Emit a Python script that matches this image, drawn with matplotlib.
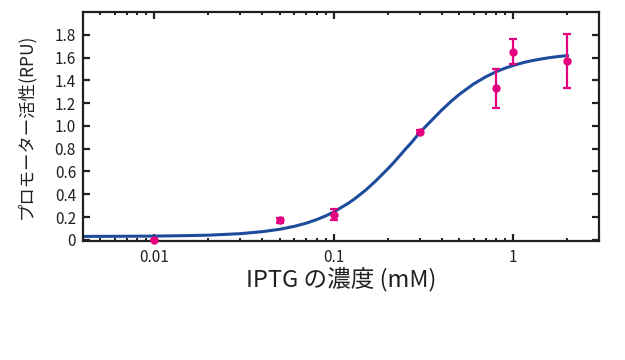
import numpy as np
import matplotlib
matplotlib.use("Agg")
import matplotlib.pyplot as plt
from matplotlib.ticker import FixedLocator, FuncFormatter, LogLocator, NullFormatter

plt.rcParams['font.family'] = ['Noto Sans CJK JP', 'DejaVu Sans']

# 測定値 (IPTG 濃度 mM, 活性 RPU, 誤差)
iptg = [0.01, 0.05, 0.1, 0.3, 0.8, 1.0, 2.0]
activity = [0.0, 0.17, 0.22, 0.95, 1.33, 1.65, 1.57]
err = [0.0, 0.02, 0.05, 0.01, 0.17, 0.11, 0.24]

# フィット曲線
curve_x = [0.004, 0.006, 0.008, 0.01, 0.015, 0.02, 0.03, 0.04, 0.05, 0.06, 0.07,
           0.08, 0.09, 0.1, 0.12, 0.13, 0.15, 0.17, 0.2, 0.22, 0.25, 0.27, 0.3,
           0.35, 0.4, 0.45, 0.5, 0.6, 0.7, 0.8, 0.9, 1.0, 1.15, 1.3, 1.45, 1.6,
           1.8, 2.0]
curve_y = [0.030, 0.031, 0.032, 0.033, 0.037, 0.041, 0.054, 0.072, 0.093, 0.118,
           0.146, 0.177, 0.210, 0.245, 0.320, 0.358, 0.435, 0.513, 0.624, 0.694,
           0.795, 0.852, 0.94, 1.048, 1.141, 1.216, 1.277, 1.368, 1.430, 1.475,
           1.507, 1.531, 1.558, 1.576, 1.589, 1.600, 1.610, 1.617]

y_ticks = [0, 0.2, 0.4, 0.6, 0.8, 1.0, 1.2, 1.4, 1.6, 1.8]
x_ticks = [0.01, 0.1, 1]
x_labels = ["0.01", "0.1", "1"]

ink = "#231f20"
blue = "#1d4c9c"
magenta = "#e4007f"

fig = plt.figure(figsize=(6.25, 3.6), dpi=100)
ax = fig.add_axes([0.1328, 0.3306, 0.8256, 0.6361])

ax.plot(curve_x, curve_y, color=blue, lw=2.2, zorder=2, solid_joinstyle="round")
ax.errorbar(iptg, activity, yerr=err, fmt="o", color=magenta, ms=5,
            elinewidth=1.6, capsize=3, capthick=1.6, zorder=3, clip_on=False)

ax.set_xscale("log")
ax.set_xlim(0.004, 3.0)
ax.set_ylim(-0.01, 2.0)

ax.xaxis.set_major_locator(FixedLocator(x_ticks))
ax.set_xticklabels(x_labels)
ax.xaxis.set_minor_locator(LogLocator(base=10, subs=np.arange(2, 10)))
ax.xaxis.set_minor_formatter(NullFormatter())
ax.yaxis.set_major_locator(FixedLocator(y_ticks))
ax.yaxis.set_major_formatter(FuncFormatter(lambda v, p: "0" if v == 0 else "%.1f" % v))

ax.tick_params(which="both", direction="in", top=True, right=True, colors=ink,
               labelcolor=ink, labelsize=11)
ax.tick_params(which="major", length=5, width=1.6, pad=6)
ax.tick_params(which="minor", length=2.5, width=1.4)
ax.tick_params(axis="y", which="major", pad=5)

for s in ax.spines.values():
    s.set_color(ink)
    s.set_linewidth(1.6)

ax.set_xlabel("IPTG の濃度 (mM)", fontsize=17, color=ink, labelpad=0)
ax.set_ylabel("プロモーター活性(RPU)", fontsize=12.5, color=ink, labelpad=14)

fig.savefig("out.png", dpi=100)
plt.close(fig)
